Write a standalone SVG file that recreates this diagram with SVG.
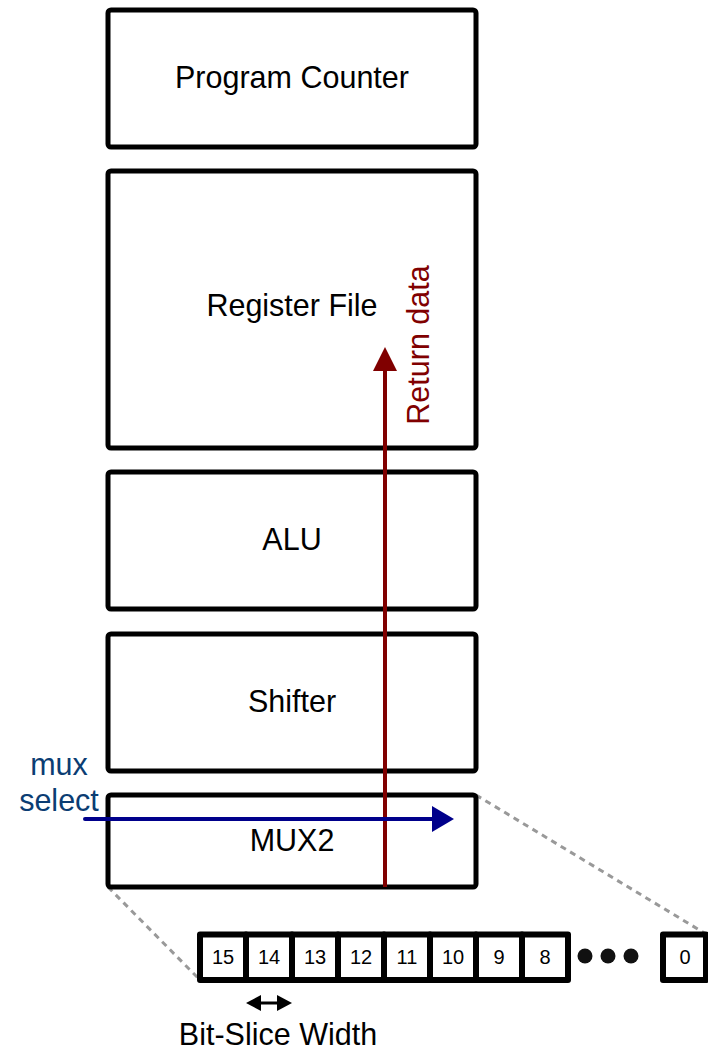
<svg xmlns="http://www.w3.org/2000/svg" width="708" height="1049" viewBox="0 0 708 1049">
<style>
.box{fill:#fff;stroke:#000;stroke-width:5;stroke-linejoin:round}
.lbl{font-family:"Liberation Sans",Arial,sans-serif;font-size:30.5px;fill:#000;text-anchor:middle}
.cell{fill:#fff;stroke:#000;stroke-width:6;stroke-linejoin:round}
.bit{font-family:"Liberation Sans",Arial,sans-serif;font-size:20px;fill:#000;text-anchor:middle}
.dash{stroke:#999;stroke-width:3;stroke-dasharray:6,5;fill:none}
.side{font-family:"Liberation Sans",Arial,sans-serif;font-size:30.5px;text-anchor:middle}
</style>
<g id="connectors-dash">
<line class="dash" x1="108" y1="887" x2="200" y2="980"/>
<line class="dash" x1="476" y1="795" x2="706" y2="934"/>
</g>
<g id="pc"><rect class="box" x="108" y="10" width="368" height="137" rx="3"/><text class="lbl" x="292" y="88">Program Counter</text></g>
<g id="regfile"><rect class="box" x="108" y="171" width="368" height="277" rx="3"/><text class="lbl" x="292" y="316">Register File</text></g>
<g id="alu"><rect class="box" x="108" y="472" width="368" height="137" rx="3"/><text class="lbl" x="292" y="550">ALU</text></g>
<g id="shifter"><rect class="box" x="108" y="634" width="368" height="137" rx="3"/><text class="lbl" x="292" y="712">Shifter</text></g>
<g id="mux2"><rect class="box" x="108" y="795" width="368" height="92" rx="3"/><text class="lbl" x="292" y="851">MUX2</text></g>
<g id="bits">
<rect class="cell" x="200" y="934.5" width="46" height="45.5"/>
<rect class="cell" x="246" y="934.5" width="46" height="45.5"/>
<rect class="cell" x="292" y="934.5" width="46" height="45.5"/>
<rect class="cell" x="338" y="934.5" width="46" height="45.5"/>
<rect class="cell" x="384" y="934.5" width="46" height="45.5"/>
<rect class="cell" x="430" y="934.5" width="46" height="45.5"/>
<rect class="cell" x="476" y="934.5" width="46" height="45.5"/>
<rect class="cell" x="522" y="934.5" width="46" height="45.5"/>
<rect class="cell" x="663" y="934.5" width="43" height="45.5"/>
<text class="bit" x="223" y="964">15</text>
<text class="bit" x="269" y="964">14</text>
<text class="bit" x="315" y="964">13</text>
<text class="bit" x="361" y="964">12</text>
<text class="bit" x="407" y="964">11</text>
<text class="bit" x="453" y="964">10</text>
<text class="bit" x="499" y="964">9</text>
<text class="bit" x="545" y="964">8</text>
<text class="bit" x="685" y="964">0</text>
<circle cx="585" cy="956" r="7.5" fill="#111"/>
<circle cx="608" cy="956" r="7.5" fill="#111"/>
<circle cx="631" cy="956" r="7.5" fill="#111"/>
</g>
<g id="connectors">
<line x1="385" y1="887" x2="385" y2="360" stroke="#800000" stroke-width="4"/>
<path d="M373,371 L385,347 L397,371 Z" fill="#800000"/>
<line x1="85" y1="819" x2="440" y2="819" stroke="#00008b" stroke-width="4" stroke-linecap="round"/>
<path d="M432,806 L454,819 L432,832 Z" fill="#00008b"/>
<line x1="256" y1="1003" x2="282" y2="1003" stroke="#000" stroke-width="3"/>
<path d="M246,1003 L261,995 L261,1011 Z" fill="#000"/>
<path d="M292,1003 L277,995 L277,1011 Z" fill="#000"/>
</g>
<g id="labels">
<text class="side" x="418" y="345" transform="rotate(-90 418 345)" fill="#800000" dominant-baseline="central">Return data</text>
<text class="side" x="59" y="775" fill="#0b3d73">mux</text>
<text class="side" x="59" y="811" fill="#0b3d73">select</text>
<text class="side" x="278" y="1045" fill="#000">Bit-Slice Width</text>
</g>
</svg>
